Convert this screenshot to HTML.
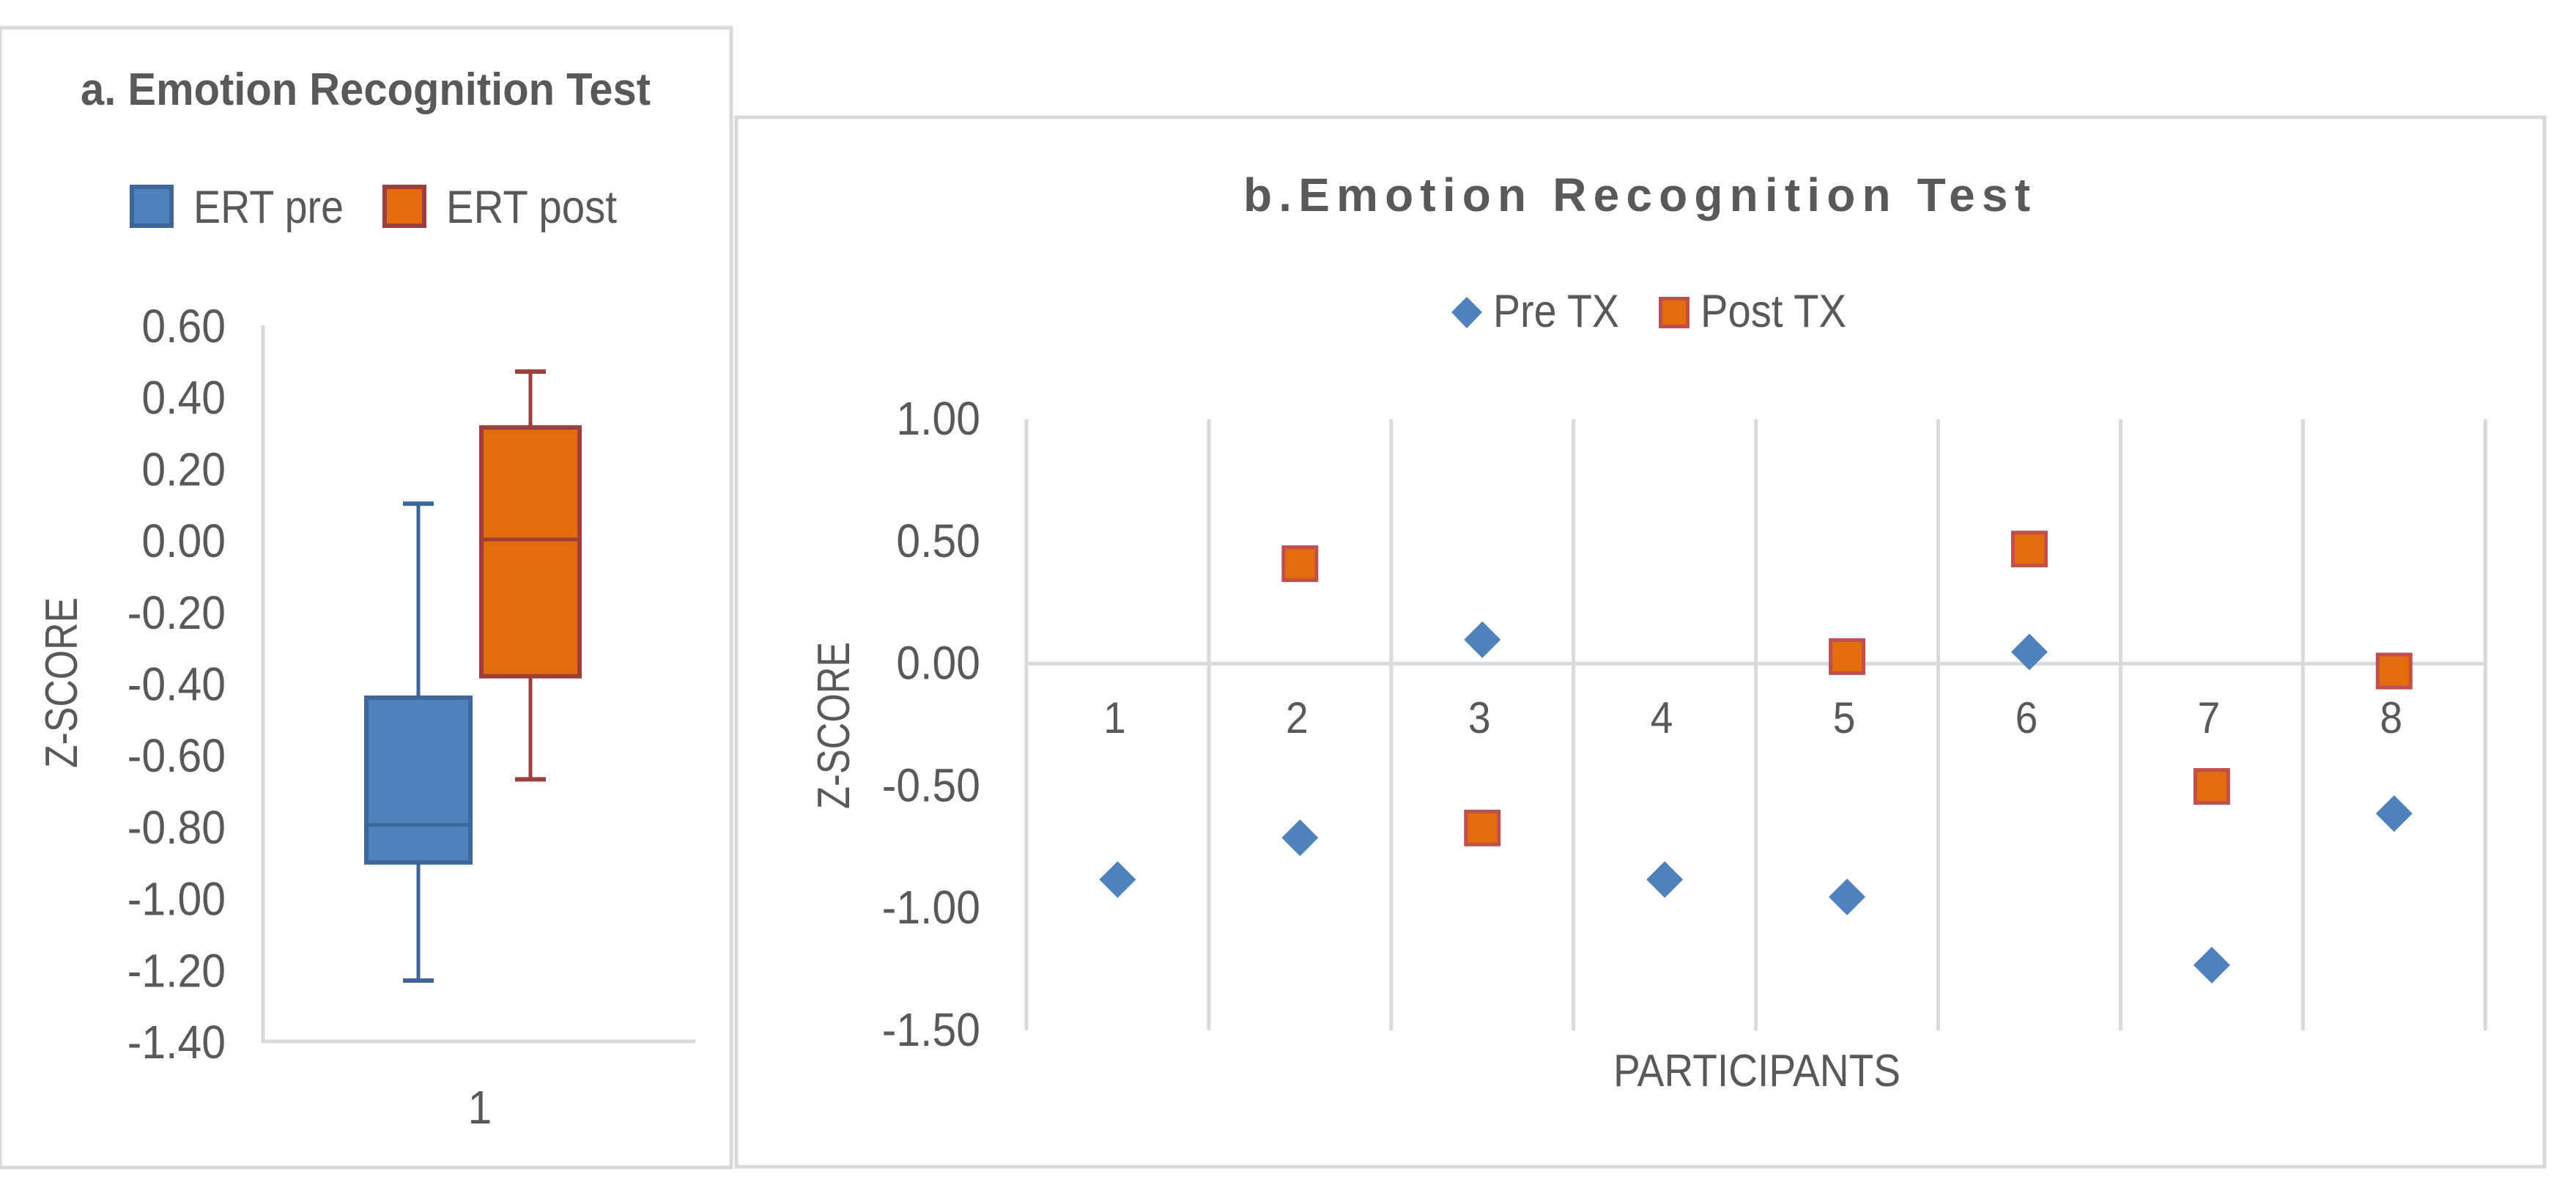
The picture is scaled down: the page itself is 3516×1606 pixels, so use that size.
<!DOCTYPE html>
<html lang="en">
<head>
<meta charset="utf-8">
<title>Emotion Recognition Test</title>
<style>
html,body{margin:0;padding:0;background:#fff;width:3516px;height:1606px;overflow:hidden}
svg{display:block}
text{font-family:"Liberation Sans",sans-serif;fill:#595959}
</style>
</head>
<body>
<svg id="fig" xmlns="http://www.w3.org/2000/svg" width="3516" height="1606" viewBox="0 0 3516 1606">
  <rect x="0" y="38" width="998" height="1555" fill="#fff" stroke="#d9d9d9" stroke-width="5"/>
  <rect x="1005" y="160" width="2468" height="1432" fill="#fff" stroke="#d9d9d9" stroke-width="5"/>

  <g id="panelA">
    <text x="110" y="143" font-size="62" font-weight="700" textLength="778" lengthAdjust="spacingAndGlyphs">a. Emotion Recognition Test</text>
    <rect x="180" y="255" width="54" height="53" fill="#4f81bd" stroke="#3c6599" stroke-width="6"/>
    <text x="264" y="304" font-size="63" textLength="205" lengthAdjust="spacingAndGlyphs">ERT pre</text>
    <rect x="525" y="255" width="54" height="53" fill="#e46c0a" stroke="#9c3f3c" stroke-width="6"/>
    <text x="609" y="304" font-size="63" textLength="233" lengthAdjust="spacingAndGlyphs">ERT post</text>
    <text transform="translate(105 1048) rotate(-90)" font-size="62" textLength="233" lengthAdjust="spacingAndGlyphs">Z-SCORE</text>
    <text transform="translate(655 1533) scale(.92 1)" font-size="64" text-anchor="middle">1</text>
  </g>

  <g id="panelB">
    <text x="1697" y="288" font-size="64" font-weight="700" textLength="1074" lengthAdjust="spacing">b.Emotion Recognition Test</text>
    <polygon points="2002,405 2023,426 2002,448 1981,426" fill="#4f81bd"/>
    <text x="2038" y="446" font-size="63" textLength="172" lengthAdjust="spacingAndGlyphs">Pre TX</text>
    <rect x="2266.5" y="407.5" width="37" height="38" fill="#e46c0a" stroke="#c0504d" stroke-width="5"/>
    <text x="2321" y="446" font-size="63" textLength="199" lengthAdjust="spacingAndGlyphs">Post TX</text>
    <text transform="translate(1159 1104) rotate(-90)" font-size="62" textLength="228" lengthAdjust="spacingAndGlyphs">Z-SCORE</text>
    <text x="2202" y="1482" font-size="62" textLength="392" lengthAdjust="spacingAndGlyphs">PARTICIPANTS</text>
  </g>
</svg>
<script>
// Panel a: box plot values
const boxSeries = ['ERT pre', 'ERT post'];
const boxMin = [-1.23, -0.668];
const boxQ1 = [-0.90, -0.38];
const boxMedian = [-0.795, 0.002];
const boxQ3 = [-0.44, 0.315];
const boxMax = [0.102, 0.471];
const boxTicks = [0.6, 0.4, 0.2, 0, -0.2, -0.4, -0.6, -0.8, -1, -1.2, -1.4];

// Panel b: scatter values
const participants = [1, 2, 3, 4, 5, 6, 7, 8];
const preTx = [-0.883, -0.712, 0.098, -0.883, -0.954, 0.048, -1.233, -0.613];
const postTx = [null, 0.409, -0.672, null, 0.029, 0.469, -0.502, -0.03];
const scatterTicks = [1, 0.5, 0, -0.5, -1, -1.5];

const NS = 'http://www.w3.org/2000/svg';
function mk(parent, tag, attrs, txt) {
  const e = document.createElementNS(NS, tag);
  for (const k in attrs) e.setAttribute(k, attrs[k]);
  if (txt !== undefined) e.textContent = txt;
  parent.appendChild(e);
  return e;
}

// ---------- Panel a ----------
const pa = document.getElementById('panelA');
const aYTop = 444, aYBottom = 1421, aMax = 0.6, aMin = -1.4;
function ya(v) { return aYTop + (aMax - v) / (aMax - aMin) * (aYBottom - aYTop); }
function xa(i) { return 571 + i * 153; }

const aYAxis = mk(pa, 'line', {x1: 359, y1: aYTop, x2: 359, y2: aYBottom, stroke: '#d9d9d9', 'stroke-width': 5});


const aXAxis = mk(pa, 'line', {x1: 357, y1: aYBottom, x2: 949, y2: aYBottom, stroke: '#d9d9d9', 'stroke-width': 5});



boxTicks.forEach(function (t) {
  const lab = mk(pa, 'text', {transform: 'translate(308 ' + (ya(t) + 23) + ') scale(.92 1)', 'font-size': 64, 'text-anchor': 'end'}, t.toFixed(2));
  
  
});

const boxFill = ['#4f81bd', '#e46c0a'];
const boxStroke = ['#3c6599', '#9c3f3c'];
const boxHalf = [71, 67];
boxSeries.forEach(function (name, i) {
  const g = mk(pa, 'g', {stroke: boxStroke[i], 'stroke-width': 5});
  
  
  const c = xa(i), hw = boxHalf[i], cap = 21;
  mk(g, 'line', {x1: c, x2: c, y1: ya(boxMax[i]), y2: ya(boxQ3[i])});
  mk(g, 'line', {x1: c, x2: c, y1: ya(boxQ1[i]), y2: ya(boxMin[i])});
  mk(g, 'line', {x1: c - cap, x2: c + cap, y1: ya(boxMax[i]), y2: ya(boxMax[i]), 'stroke-width': 6});
  mk(g, 'line', {x1: c - cap, x2: c + cap, y1: ya(boxMin[i]), y2: ya(boxMin[i]), 'stroke-width': 6});
  mk(g, 'rect', {x: c - hw, y: ya(boxQ3[i]), width: hw * 2, height: ya(boxQ1[i]) - ya(boxQ3[i]), fill: boxFill[i], 'stroke-width': 6});
  mk(g, 'line', {x1: c - hw, x2: c + hw, y1: ya(boxMedian[i]), y2: ya(boxMedian[i])});
});

// ---------- Panel b ----------
const pb = document.getElementById('panelB');
const bYTop = 572, bYBottom = 1406, bMax = 1, bMin = -1.5, bXLeft = 1401, bStep = 248.9;
function yb(v) { return bYTop + (bMax - v) / (bMax - bMin) * (bYBottom - bYTop); }
function xb(i) { return bXLeft + (i + 0.5) * bStep; }

for (let i = 0; i <= participants.length; i++) {
  const gx = bXLeft + i * bStep;
  const gl = mk(pb, 'line', {x1: gx, x2: gx, y1: bYTop, y2: bYBottom, stroke: '#d9d9d9', 'stroke-width': 5});
  
  
}
const zeroLine = mk(pb, 'line', {x1: bXLeft, x2: bXLeft + participants.length * bStep, y1: yb(0), y2: yb(0), stroke: '#d9d9d9', 'stroke-width': 5});



scatterTicks.forEach(function (t) {
  const lab = mk(pb, 'text', {transform: 'translate(1338 ' + (yb(t) + 21) + ') scale(.92 1)', 'font-size': 64, 'text-anchor': 'end'}, t.toFixed(2));
  
  
});

participants.forEach(function (p, i) {
  const lab = mk(pb, 'text', {transform: 'translate(' + (xb(i) - 4) + ' 1000) scale(.92 1)', 'font-size': 60, 'text-anchor': 'middle'}, String(p));
  
  
});

preTx.forEach(function (v, i) {
  if (v === null) return;
  const x = xb(i), y = yb(v), r = 25;
  const d = mk(pb, 'polygon', {points: [x, y - r, x + r, y, x, y + r, x - r, y].join(' '), fill: '#4f81bd'});
  
  
});
postTx.forEach(function (v, i) {
  if (v === null) return;
  const x = xb(i), y = yb(v), s = 45;
  const q = mk(pb, 'rect', {x: x - s / 2, y: y - s / 2, width: s, height: s, fill: '#e46c0a', stroke: '#c0504d', 'stroke-width': 5});
  
  
});
</script>
</body>
</html>
